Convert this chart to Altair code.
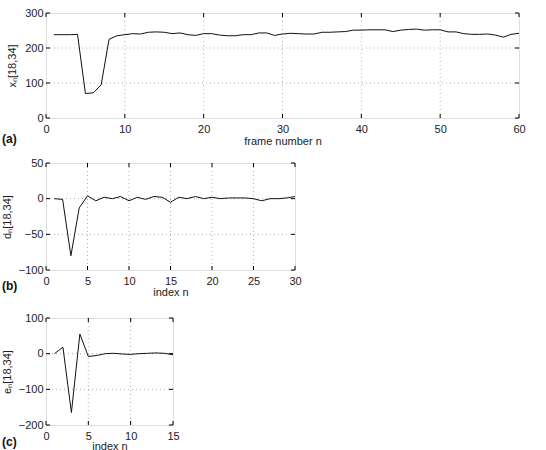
import altair as alt
import pandas as pd

# ---- data ----
frame_n = list(range(1, 61))
x_vals = [238, 238, 238, 239, 70, 72, 95, 225, 235, 238,
          241, 240, 245, 246, 245, 241, 243, 238, 236, 241,
          241, 237, 235, 235, 238, 238, 243, 243, 236, 240,
          242, 241, 240, 240, 245, 245, 246, 247, 251, 251,
          252, 252, 252, 247, 251, 253, 254, 251, 252, 252,
          246, 246, 241, 239, 239, 240, 237, 231, 239, 242]

index_b = list(range(1, 31))
d_vals = [0, -1, -80, -13, 4, -3, 2, 0, 3, -3,
          2, -1, 3, 2, -5, 2, 0, 3, 0, 2,
          0, 1, 1, 1, 0, -3, 0, 0, 1, 3]

index_c = list(range(1, 16))
e_vals = [0, 18, -165, 55, -8, -5, 0, 1, -1, -2, 0, 1, 2, 1, -3]

xticks_a = [0, 10, 20, 30, 40, 50, 60]
yticks_a = [0, 100, 200, 300]
xticks_b = [0, 5, 10, 15, 20, 25, 30]
yticks_b = [-100, -50, 0, 50]
xticks_c = [0, 5, 10, 15]
yticks_c = [-200, -100, 0, 100]

FONT = "Liberation Sans"
LEFT = 44


def panel(n, vals, xticks, yticks, W, H, xtitle, ytitle, tag, tag_dy,
          xtp, ytp):
    df = pd.DataFrame({"n": n, "v": vals})
    xs = alt.Scale(domain=[xticks[0], xticks[-1]], nice=False, zero=False)
    ys = alt.Scale(domain=[yticks[0], yticks[-1]], nice=False, zero=False)
    common = dict(grid=False, ticks=False, domain=False, format="d",
                  labelFlush=False, titleFontWeight="normal",
                  labelFont=FONT, titleFont=FONT, labelFontSize=11,
                  titleFontSize=11, labelColor="#222", titleColor="#222")
    xaxis = alt.Axis(values=xticks, title=xtitle, labelPadding=5,
                     titlePadding=xtp, **common)
    yaxis = alt.Axis(values=yticks, title=ytitle, labelPadding=3,
                     titlePadding=ytp, **common)
    X = lambda f: alt.X(f, scale=xs, axis=xaxis)
    Y = lambda f: alt.Y(f, scale=ys, axis=yaxis)
    xin = pd.DataFrame({"t": xticks[1:-1]})
    yin = pd.DataFrame({"t": yticks[1:-1]})
    xt = pd.DataFrame({"t": xticks})
    yt = pd.DataFrame({"t": yticks})
    grid_style = dict(color="#9a9a9a", strokeWidth=0.8, strokeDash=[1, 3])
    gx = alt.Chart(xin).mark_rule(**grid_style).encode(x=X("t:Q"))
    gy = alt.Chart(yin).mark_rule(**grid_style).encode(y=Y("t:Q"))
    line = alt.Chart(df).mark_line(color="#111", strokeWidth=1).encode(
        x=X("n:Q"), y=Y("v:Q"))
    tk = dict(color="black", strokeWidth=1)
    tb = alt.Chart(xt).mark_rule(**tk).encode(
        x=X("t:Q"), y=alt.value(H), y2=alt.value(H - 4))
    tt = alt.Chart(xt).mark_rule(**tk).encode(
        x=X("t:Q"), y=alt.value(0), y2=alt.value(4))
    tl = alt.Chart(yt).mark_rule(**tk).encode(
        y=Y("t:Q"), x=alt.value(0), x2=alt.value(4))
    tr = alt.Chart(yt).mark_rule(**tk).encode(
        y=Y("t:Q"), x=alt.value(W), x2=alt.value(W - 4))
    lab = alt.Chart(pd.DataFrame({"s": [tag]})).mark_text(
        align="left", baseline="middle", fontWeight="bold", fontSize=12,
        font=FONT, color="#111").encode(
        x=alt.value(-LEFT), y=alt.value(H + tag_dy), text="s:N")
    return alt.layer(gx, gy, line, tb, tt, tl, tr, lab).properties(
        width=W, height=H)


pa = panel(frame_n, x_vals, xticks_a, yticks_a, 473, 105,
           "frame number n", "xₙ[18,34]", "(a)", 21, 1, 7)
pb = panel(index_b, d_vals, xticks_b, yticks_b, 249, 107,
           "index n", "dₙ[18,34]", "(b)", 16, 0, 6)
pc = panel(index_c, e_vals, xticks_c, yticks_c, 127, 107,
           "index n", "eₙ[18,34]", "(c)", 17, -1, 6)

chart = alt.vconcat(pa, alt.vconcat(pb, pc, spacing=13), spacing=9).properties(
    padding={"left": 0, "top": 6, "right": 5, "bottom": 0}
).configure_view(stroke="black", strokeWidth=1).configure(background="white")

chart.save("out.html", embed_options={"renderer": "svg", "actions": False})
